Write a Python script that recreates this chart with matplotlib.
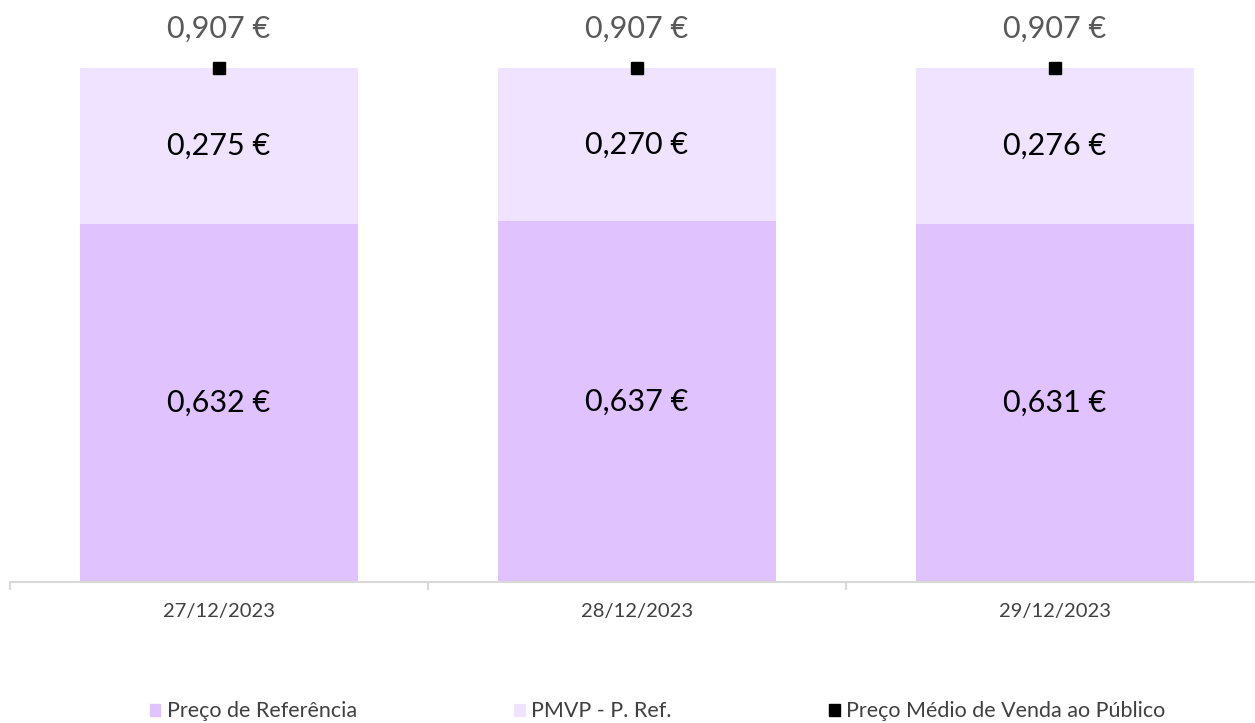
import matplotlib.pyplot as plt
import numpy as np
from matplotlib.patches import Patch

plt.rcParams['font.family'] = ['Lato', 'DejaVu Sans']

# data
dates = ['27/12/2023', '28/12/2023', '29/12/2023']
preco_ref = [0.632, 0.637, 0.631]
pmvp_diff = [0.275, 0.270, 0.276]
pmvp = [0.907, 0.907, 0.907]

c_ref = '#DFC2FF'
c_diff = '#F0E3FF'

fig = plt.figure(figsize=(12.55, 7.23), dpi=100)
ax = fig.add_axes([10 / 1255, 141 / 723, 1254 / 1255, 582 / 723])

x = np.arange(len(dates))
w = 0.665
ax.bar(x, preco_ref, width=w, color=c_ref, label='Preço de Referência')
ax.bar(x, pmvp_diff, width=w, bottom=preco_ref, color=c_diff, label='PMVP - P. Ref.')
ax.plot(x, pmvp, 's', color='black', markersize=9, label='Preço Médio de Venda ao Público')

def fmt(v):
    return f'{v:.3f}'.replace('.', ',') + ' €'

for i in range(len(dates)):
    ax.text(x[i], preco_ref[i] / 2, fmt(preco_ref[i]), ha='center', va='center',
            fontsize=22, color='black')
    ax.text(x[i], preco_ref[i] + pmvp_diff[i] / 2, fmt(pmvp_diff[i]), ha='center',
            va='center', fontsize=22, color='black')
    ax.annotate(fmt(pmvp[i]), (x[i], pmvp[i]), xytext=(0, 28), textcoords='offset points',
                ha='center', va='center', fontsize=22, color='#595959')

ax.set_xlim(-0.5, 2.5)
ax.set_ylim(0, 582 / 566.7)
ax.set_yticks([])
for s in ['top', 'right', 'left']:
    ax.spines[s].set_visible(False)
ax.spines['bottom'].set_color('#d9d9d9')
ax.spines['bottom'].set_linewidth(1.5)
ax.set_xticks(x)
ax.set_xticklabels(dates, fontsize=14.5, color='#404040')
ax.tick_params(axis='x', which='major', length=0, pad=15)
ax.set_xticks([-0.5, 0.5, 1.5, 2.5], minor=True)
ax.tick_params(axis='x', which='minor', length=6, width=1.5, color='#d9d9d9')

handles = [Patch(color=c_ref), Patch(color=c_diff), Patch(color='black')]
labels = ['Preço de Referência', 'PMVP - P. Ref.', 'Preço Médio de Venda ao Público']
fig.legend(handles, labels, loc='center', bbox_to_anchor=(0.524, 0.016), ncol=3,
           frameon=False, handlelength=0.5, handleheight=0.5,
           handletextpad=0.3, columnspacing=7.3, labelcolor='#404040',
           prop={'size': 15.5})

fig.savefig('out.png', dpi=100)
